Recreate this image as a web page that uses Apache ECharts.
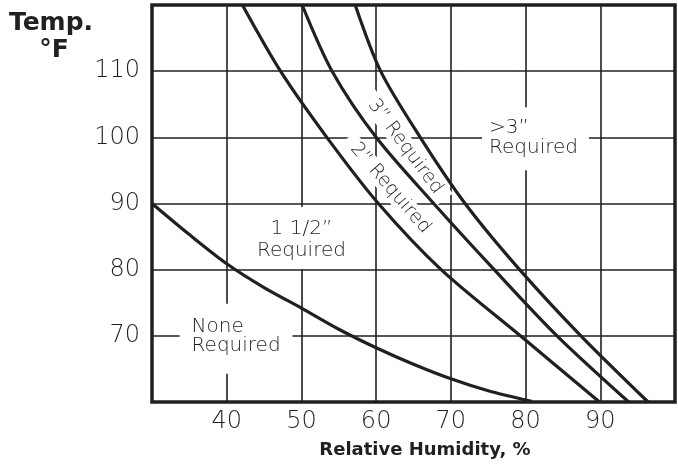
<!DOCTYPE html>
<html>
<head>
<meta charset="utf-8">
<script src="https://cdn.jsdelivr.net/npm/echarts/dist/echarts.min.js"></script>
<style>
  html, body { margin: 0; padding: 0; background: #fff; }
  #chart { width: 678px; height: 468px; }
</style>
</head>
<body>
<div id="chart"></div>
<script>
// curves: [relative humidity %, temp °F]
const noneCurve = [[30, 90], [35, 85.3], [40, 80.9], [45, 77.3], [50, 74.2], [55, 71.0], [60, 68.2], [65, 65.7], [70, 63.5], [75, 61.7], [80.8, 60.1]];
const oneHalfCurve = [[42.1, 120], [47.2, 110], [53.4, 100], [60.3, 90], [68.7, 80], [79.3, 70], [89.9, 60]];
const twoInchCurve = [[50.1, 120], [54.1, 110], [60.0, 100], [67.7, 90], [75.8, 80], [84.2, 70], [93.8, 60]];
const threeInchCurve = [[57.2, 120], [60.6, 110], [65.9, 100], [71.9, 90], [79.2, 80], [87.4, 70], [96.4, 60]];

const xTicks = [40, 50, 60, 70, 80, 90];
const yTicks = [70, 80, 90, 100, 110];

const ink = '#231f20';
const thin = '"DejaVu Sans", Inter, sans-serif';
const bold = '"DejaVu Sans", sans-serif';

const chart = echarts.init(document.getElementById('chart'));

function curve(name, data) {
    return {
        name: name,
        type: 'line',
        data: data,
        smooth: 0.3,
        showSymbol: false,
        silent: true,
        z: 3,
        lineStyle: { color: ink, width: 3.2 }
    };
}

let option = {
    animation: false,
    backgroundColor: '#fff',
    grid: {
        left: 152, top: 5, right: -2, bottom: 66,
        show: true,
        borderColor: ink,
        borderWidth: 3.5
    },
    xAxis: {
        type: 'value',
        min: 30, max: 100, interval: 10,
        axisLine: { show: false },
        axisTick: { show: false },
        splitLine: { lineStyle: { color: ink, width: 1.6 } },
        axisLabel: {
            margin: 8,
            color: ink,
            fontFamily: thin,
            fontWeight: 200,
            fontSize: 24,
            formatter: v => xTicks.indexOf(v) >= 0 ? String(v) : ''
        }
    },
    yAxis: {
        type: 'value',
        min: 60, max: 120, interval: 10,
        axisLine: { show: false },
        axisTick: { show: false },
        splitLine: { lineStyle: { color: ink, width: 1.6 } },
        axisLabel: {
            margin: 12,
            color: ink,
            fontFamily: thin,
            fontWeight: 200,
            fontSize: 24,
            formatter: v => yTicks.indexOf(v) >= 0 ? String(v) : ''
        }
    },
    series: [
        curve('None', noneCurve),
        curve('1 1/2"', oneHalfCurve),
        curve('2"', twoInchCurve),
        curve('3"', threeInchCurve)
    ]
};

chart.setOption(option);

// 注释文字，按数据坐标定位
function px(rh, t) { return chart.convertToPixel({ gridIndex: 0 }, [rh, t]); }

const noteFont = { fontFamily: thin, fontWeight: 200, fontSize: 20, fill: ink };

function box(pos, rect, textStyle, rotation) {
    return {
        type: 'group',
        x: pos[0], y: pos[1],
        rotation: rotation || 0,
        z: 1,
        children: [
            { type: 'rect', shape: rect, style: { fill: '#fff' }, z: 1 },
            { type: 'text', style: Object.assign({}, noteFont, textStyle), z: 1 }
        ]
    };
}

const graphics = [
    box(px(35.3, 70), { x: -12, y: -32, width: 113, height: 70 },
        { text: 'None\nRequired', align: 'left', verticalAlign: 'middle', lineHeight: 19 }),
    box(px(50, 84.5), { x: -56, y: -33, width: 112, height: 62 },
        { text: '1 1/2”\nRequired', align: 'center', verticalAlign: 'middle', lineHeight: 22 }),
    box(px(75.1, 100), { x: -7, y: -30, width: 107, height: 63 },
        { text: '>3”\nRequired', align: 'left', verticalAlign: 'middle', lineHeight: 20 }),
    box(px(61.9, 92.3), { x: -66, y: -10, width: 132, height: 20 },
        { text: '2” Required', align: 'center', verticalAlign: 'middle', fontSize: 19 }, -0.86),
    box(px(63.9, 98.6), { x: -66, y: -10, width: 132, height: 20 },
        { text: '3” Required', align: 'center', verticalAlign: 'middle', fontSize: 19 }, -0.93),
    {
        type: 'text', x: 51, y: 11, z: 5,
        style: { text: 'Temp.', fontFamily: bold, fontWeight: 'bold', fontSize: 25, fill: ink, align: 'center' }
    },
    {
        type: 'text', x: 54, y: 38, z: 5,
        style: { text: '°F', fontFamily: bold, fontWeight: 'bold', fontSize: 25, fill: ink, align: 'center' }
    },
    {
        type: 'text', x: 425, y: 450, z: 5,
        style: { text: 'Relative Humidity, %', fontFamily: bold, fontWeight: 'bold', fontSize: 18, fill: ink, align: 'center', verticalAlign: 'middle' }
    }
];

chart.setOption({ graphic: graphics });
</script>
</body>
</html>
